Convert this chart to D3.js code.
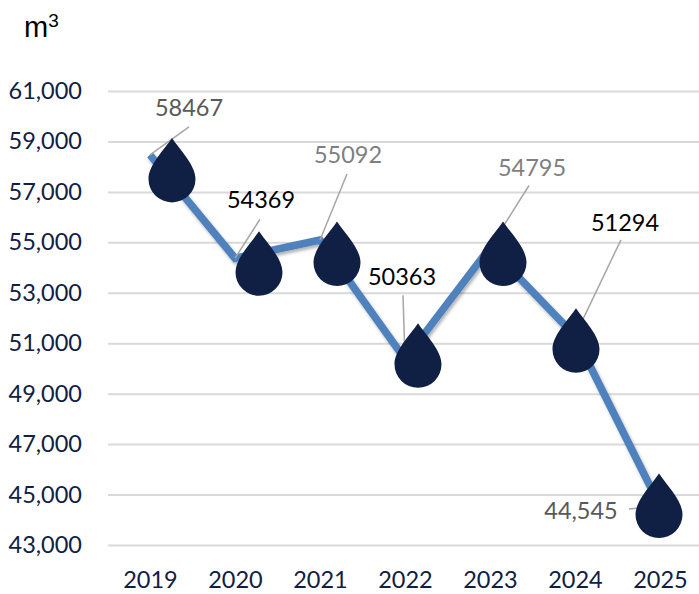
<!DOCTYPE html>
<html>
<head>
<meta charset="utf-8">
<script src="https://cdn.jsdelivr.net/npm/d3@7"></script>
<style>
    html, body { margin: 0; padding: 0; background: #fff; }
    svg { display: block; }
    text { font-family: Lato, "Open Sans", sans-serif; }
</style>
</head>
<body>
<div id="chart-container"></div>
<script>
const years = [2019, 2020, 2021, 2022, 2023, 2024, 2025];
const volumes = [58467, 54369, 55092, 50363, 54795, 51294, 44545];
const volumeLabels = ["58467", "54369", "55092", "50363", "54795", "51294", "44,545"];
const yTicks = [43000, 45000, 47000, 49000, 51000, 53000, 55000, 57000, 59000, 61000];

const width = 699;
const height = 594;
const navy = "#0f2044";

// hand placed callouts, all relative to the data point
const dropOffsets = [[22, 24], [24, 14], [17, 22.5], [13, 5], [13, 15], [1, 13.5], [-1, 8.5]];
const labelOffsets = [[39, -47], [26, -58], [28, -85], [-3, -83], [42, -80], [50, -113], [-79, 5]];
const leaderEnds = [[39, -28], [25, -39], [27, -66], [-2, -64], [39, -62], [46, -96], [-31, 3]];
const labelColors = ["#595959", "#000000", "#7f7f7f", "#000000", "#7f7f7f", "#000000", "#595959"];

const scaleX = d3.scalePoint().domain(years).range([150, 660]);
const scaleY = d3.scaleLinear().domain([43000, 61000]).range([545, 91]);

const svg = d3.select("#chart-container")
    .append("svg")
    .attr("width", width)
    .attr("height", height);

const defs = svg.append("defs");
const shadow = defs.append("filter")
    .attr("id", "line-shadow")
    .attr("x", "-10%").attr("y", "-10%")
    .attr("width", "120%").attr("height", "120%");
shadow.append("feDropShadow")
    .attr("dx", 1.5).attr("dy", 2.5)
    .attr("stdDeviation", 1.6)
    .attr("flood-color", "#000")
    .attr("flood-opacity", 0.3);

// gridlines
const grid = svg.append("g")
    .attr("transform", "translate(108,0)")
    .call(d3.axisRight(scaleY).tickValues(yTicks).tickSize(width - 108).tickFormat(""));
grid.select(".domain").remove();
grid.selectAll("line").attr("stroke", "#d9d9d9").attr("stroke-width", 2);

// y axis labels
const yAxis = svg.append("g")
    .attr("transform", "translate(108,0)")
    .call(d3.axisLeft(scaleY).tickValues(yTicks).tickSize(0).tickPadding(26).tickFormat(d3.format(",")));
yAxis.select(".domain").remove();
yAxis.selectAll("text")
    .attr("fill", navy)
    .attr("font-size", "23.5px")
    .style("font-family", "Lato, sans-serif");

// x axis labels
const xAxis = svg.append("g")
    .attr("transform", "translate(0,545)")
    .call(d3.axisBottom(scaleX).tickSize(0).tickPadding(26).tickFormat(d3.format("d")));
xAxis.select(".domain").remove();
xAxis.selectAll("text")
    .attr("fill", navy)
    .attr("font-size", "23.5px")
    .style("font-family", "Lato, sans-serif");

// unit
const unit = svg.append("text")
    .attr("x", 24)
    .attr("y", 37)
    .attr("fill", "#000")
    .attr("font-size", "29px")
    .style("font-family", "'Liberation Sans', sans-serif")
    .text("m");
unit.append("tspan")
    .attr("font-size", "19px")
    .attr("dy", -10)
    .text("3");

const points = years.map((yr, i) => ({
    x: scaleX(yr),
    y: scaleY(volumes[i]),
    label: volumeLabels[i],
    color: labelColors[i],
    drop: dropOffsets[i],
    labelAt: labelOffsets[i],
    leader: leaderEnds[i]
}));

const lineGen = d3.line().x(d => d.x).y(d => d.y);

svg.append("path")
    .datum(points)
    .attr("fill", "none")
    .attr("stroke", "#4f81bd")
    .attr("stroke-width", 7.5)
    .attr("stroke-linejoin", "miter")
    .attr("filter", "url(#line-shadow)")
    .attr("d", lineGen);

// leader lines
svg.selectAll(".leader")
    .data(points)
    .join("line")
    .attr("class", "leader")
    .attr("x1", d => d.x)
    .attr("y1", d => d.y)
    .attr("x2", d => d.x + d.leader[0])
    .attr("y2", d => d.y + d.leader[1])
    .attr("stroke", "#a6a6a6")
    .attr("stroke-width", 1.5);

// water drops
const dropPath = "M0,-41C8,-29 23.5,-14 23.5,0A23.5,23.5 0 1 1 -23.5,0C-23.5,-14 -8,-29 0,-41Z";

svg.selectAll(".drop")
    .data(points)
    .join("path")
    .attr("class", "drop")
    .attr("transform", d => `translate(${d.x + d.drop[0]},${d.y + d.drop[1]})`)
    .attr("fill", navy)
    .attr("d", dropPath);

// value labels
svg.selectAll(".value-label")
    .data(points)
    .join("text")
    .attr("class", "value-label")
    .attr("x", d => d.x + d.labelAt[0])
    .attr("y", d => d.y + d.labelAt[1])
    .attr("dy", "0.35em")
    .attr("text-anchor", "middle")
    .attr("fill", d => d.color)
    .attr("font-size", "23.5px")
    .text(d => d.label);
</script>
</body>
</html>
